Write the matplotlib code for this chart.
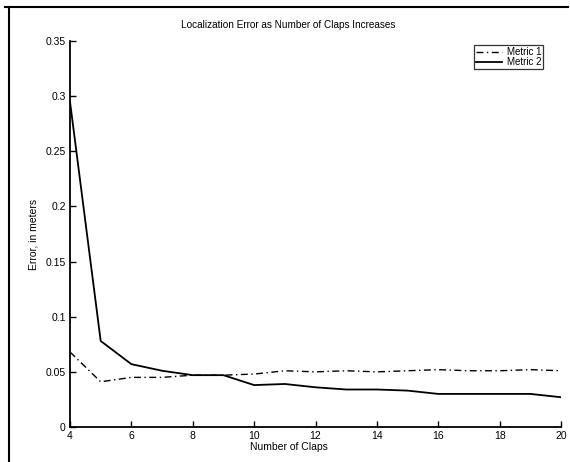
import matplotlib
matplotlib.use("Agg")
import matplotlib.pyplot as plt
from matplotlib.lines import Line2D

claps = [4, 5, 6, 7, 8, 9, 10, 11, 12, 13, 14, 15, 16, 17, 18, 19, 20]
metric1 = [0.068, 0.041, 0.045, 0.045, 0.047, 0.047, 0.048, 0.051, 0.050, 0.051,
           0.050, 0.051, 0.052, 0.051, 0.051, 0.052, 0.051]
metric2 = [0.295, 0.078, 0.057, 0.051, 0.047, 0.047, 0.038, 0.039, 0.036, 0.034,
           0.034, 0.033, 0.030, 0.030, 0.030, 0.030, 0.027]
xticks = [4, 6, 8, 10, 12, 14, 16, 18, 20]
yticks = [0, 0.05, 0.1, 0.15, 0.2, 0.25, 0.3, 0.35]
ytick_labels = ["0", "0.05", "0.1", "0.15", "0.2", "0.25", "0.3", "0.35"]

plt.rcParams['font.family'] = ['Liberation Sans', 'DejaVu Sans']
W, H = 570, 462
fig = plt.figure(figsize=(W / 100, H / 100), dpi=100)
ax = fig.add_axes([70 / W, 1 - 427 / H, (561 - 70) / W, (427 - 41) / H])

ax.plot(claps, metric1, color='black', linestyle='-.', dashes=(5, 2.5, 1, 2.5),
        linewidth=1.0, label='Metric 1')
ax.plot(claps, metric2, color='black', linestyle='-', linewidth=1.3, label='Metric 2')

ax.set_xlim(4, 20)
ax.set_ylim(0, 0.35)
ax.set_xticks(xticks)
ax.set_yticks(yticks)
ax.set_yticklabels(ytick_labels)
ax.tick_params(direction='in', length=4, width=1, labelsize=7.5, pad=3)
for s in ['top', 'right']:
    ax.spines[s].set_visible(False)
for s in ['left', 'bottom']:
    ax.spines[s].set_linewidth(1.3)

fig.text(288 / W, 1 - 25 / H, "Localization Error as Number of Claps Increases",
         ha='center', va='center', fontsize=7.2)
fig.text(289 / W, 1 - 447 / H, "Number of Claps", ha='center', va='center', fontsize=7.5)
fig.text(34 / W, 1 - 234 / H, "Error, in meters", ha='center', va='center',
         rotation=90, fontsize=7.5)

leg = ax.legend(loc='upper right', bbox_to_anchor=((543 - 70) / (561 - 70), (427 - 45) / (427 - 41)),
                fontsize=7, frameon=True, fancybox=False, handlelength=2.6,
                borderpad=0.2, labelspacing=0.05, handletextpad=0.5, borderaxespad=0)
leg.get_frame().set_edgecolor('black')
leg.get_frame().set_linewidth(0.9)

# scan frame border
fig.add_artist(Line2D([5 / W, 568 / W], [1 - 7 / H, 1 - 7 / H], color='black', linewidth=1.5))
fig.add_artist(Line2D([9 / W, 9 / W], [1 - 7 / H, 0], color='black', linewidth=1.5))

fig.savefig("out.png", dpi=100)
